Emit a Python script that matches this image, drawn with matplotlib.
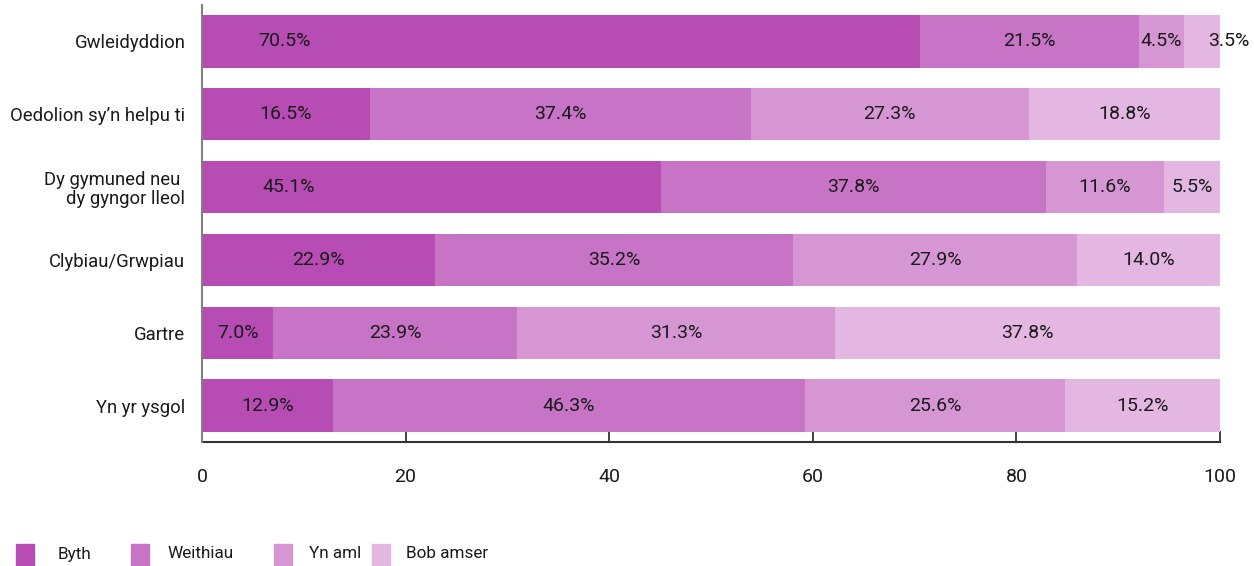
import matplotlib
matplotlib.use("Agg")
import matplotlib.pyplot as plt
from matplotlib.patches import Rectangle
import numpy as np

plt.rcParams['font.family'] = ['Roboto', 'DejaVu Sans']

# Survey categories, listed top to bottom
categories = [
    "Gwleidyddion",
    "Oedolion sy’n helpu ti",
    "Dy gymuned neu \ndy gyngor lleol",
    "Clybiau/Grwpiau",
    "Gartre",
    "Yn yr ysgol",
]

# Response shares (%) for each category
byth = [70.5, 16.5, 45.1, 22.9, 7.0, 12.9]
weithiau = [21.5, 37.4, 37.8, 35.2, 23.9, 46.3]
yn_aml = [4.5, 27.3, 11.6, 27.9, 31.3, 25.6]
bob_amser = [3.5, 18.8, 5.5, 14.0, 37.8, 15.2]

series_names = ["Byth", "Weithiau", "Yn aml", "Bob amser"]
series_values = [byth, weithiau, yn_aml, bob_amser]
colors = ["#B84CB5", "#C773C6", "#D696D4", "#E4B6E2"]

x_ticks = [0, 20, 40, 60, 80, 100]

# A few labels sit away from their segment centre
label_anchor = {(0, 0): 8.1, (2, 0): 8.5, (0, 3): 100.9}

fig = plt.figure(figsize=(12.54, 5.66), dpi=100)
ax = fig.add_axes([202 / 1254, 1 - 442 / 566, (1220 - 202) / 1254, 437 / 566])

n = len(categories)
ypos = np.arange(n)[::-1]
left = np.zeros(n)
for si, (name, vals, col) in enumerate(zip(series_names, series_values, colors)):
    vals = np.asarray(vals, dtype=float)
    ax.barh(ypos, vals, left=left, height=0.72, color=col, zorder=3, label=name)
    for ci in range(n):
        cx = label_anchor.get((ci, si), left[ci] + vals[ci] / 2)
        ax.text(cx, ypos[ci], f"{vals[ci]:.1f}%", ha="center", va="center",
                fontsize=14, color="#1a1a1a", zorder=4)
    left += vals

ax.set_xlim(0, 100)
ax.set_ylim(-0.5, n - 0.5)
ax.set_yticks(ypos)
ax.set_yticklabels(categories, fontsize=13.3, color="#1a1a1a", linespacing=1.1)
ax.tick_params(axis="y", length=0, pad=12)
ax.set_xticks(x_ticks)
ax.set_xticklabels([str(t) for t in x_ticks], fontsize=14, color="#1a1a1a")
ax.tick_params(axis="x", direction="in", length=8, width=1.3, color="#333333", pad=19)

for s in ["top", "right"]:
    ax.spines[s].set_visible(False)
ax.spines["left"].set_color("#808080")
ax.spines["left"].set_linewidth(1.5)
ax.spines["bottom"].set_color("#333333")
ax.spines["bottom"].set_linewidth(1.5)
ax.spines["left"].set_zorder(5)

# Legend drawn along the bottom edge
legend_box_x = [16, 131, 274, 372]
legend_text_x = [58, 167, 309, 406]
for name, col, bx, tx in zip(series_names, colors, legend_box_x, legend_text_x):
    fig.add_artist(Rectangle((bx / 1254, 0), 18 / 1254, 22 / 566,
                             transform=fig.transFigure, color=col))
    fig.text(tx / 1254, 1 - 554 / 566, name, fontsize=12.3,
             color="#1a1a1a", ha="left", va="center")

fig.savefig("out.png", dpi=100)
